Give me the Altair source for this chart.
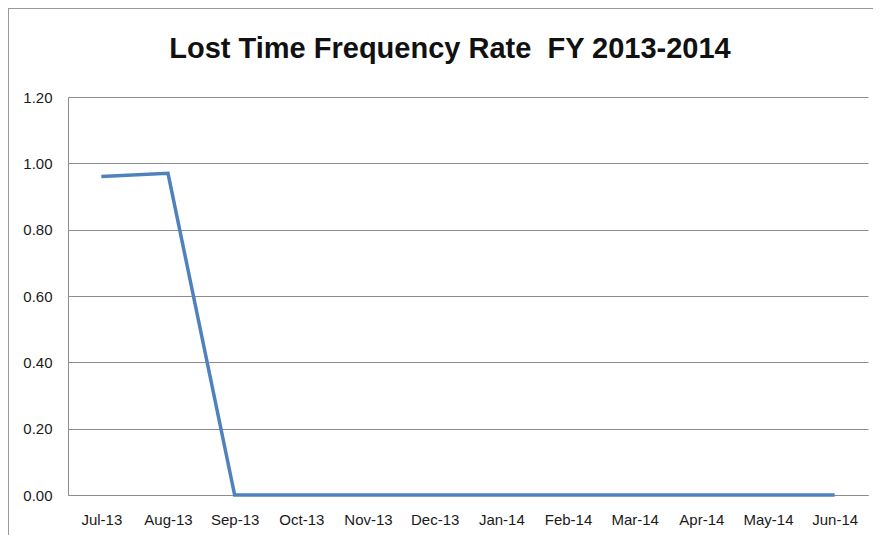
import altair as alt
import pandas as pd

months = ["Jul-13", "Aug-13", "Sep-13", "Oct-13", "Nov-13", "Dec-13",
          "Jan-14", "Feb-14", "Mar-14", "Apr-14", "May-14", "Jun-14"]
rates = [0.96, 0.97, 0.0, 0.0, 0.0, 0.0, 0.0, 0.0, 0.0, 0.0, 0.0, 0.0]

df = pd.DataFrame({"month": months, "rate": rates})

FONT = "Liberation Sans"
GRID = "#8c8c8c"

line = alt.Chart(df).mark_line(color="#4F81BD", strokeWidth=3.5).encode(
    x=alt.X("month:N", sort=months, title=None,
            scale=alt.Scale(paddingInner=0, paddingOuter=0.5),
            axis=alt.Axis(labelAngle=0, ticks=False, domainColor=GRID,
                          labelFont=FONT, labelFontSize=15, labelColor="#1a1a1a",
                          labelPadding=17, grid=False)),
    y=alt.Y("rate:Q", title=None,
            scale=alt.Scale(domain=[0, 1.2]),
            axis=alt.Axis(values=[0, 0.2, 0.4, 0.6, 0.8, 1.0, 1.2], format=".2f",
                          ticks=False, domainColor=GRID, gridColor=GRID,
                          labelFont=FONT, labelFontSize=15, labelColor="#1a1a1a",
                          labelPadding=16)),
)

border_top = alt.Chart(df).mark_rule(color="#999", strokeWidth=1).encode(
    x=alt.value(-59.5), x2=alt.value(815), y=alt.value(-88.5))
border_left = alt.Chart(df).mark_rule(color="#999", strokeWidth=1).encode(
    x=alt.value(-59.5), y=alt.value(-88.5), y2=alt.value(450))

chart = alt.layer(border_top, border_left, line).properties(
    width=800, height=398,
    padding={"left": 60, "top": 89, "right": 5, "bottom": 40},
    autosize=alt.AutoSizeParams(type="none"),
    title=alt.TitleParams("Lost Time Frequency Rate\u00a0 FY 2013-2014",
                          font=FONT, fontSize=29, fontWeight="bold",
                          color="#111", offset=-56, dx=-18, anchor="middle",
                          frame="group"),
).configure_view(stroke=None)

chart.save("out.html", embed_options={"renderer": "svg", "actions": False})
